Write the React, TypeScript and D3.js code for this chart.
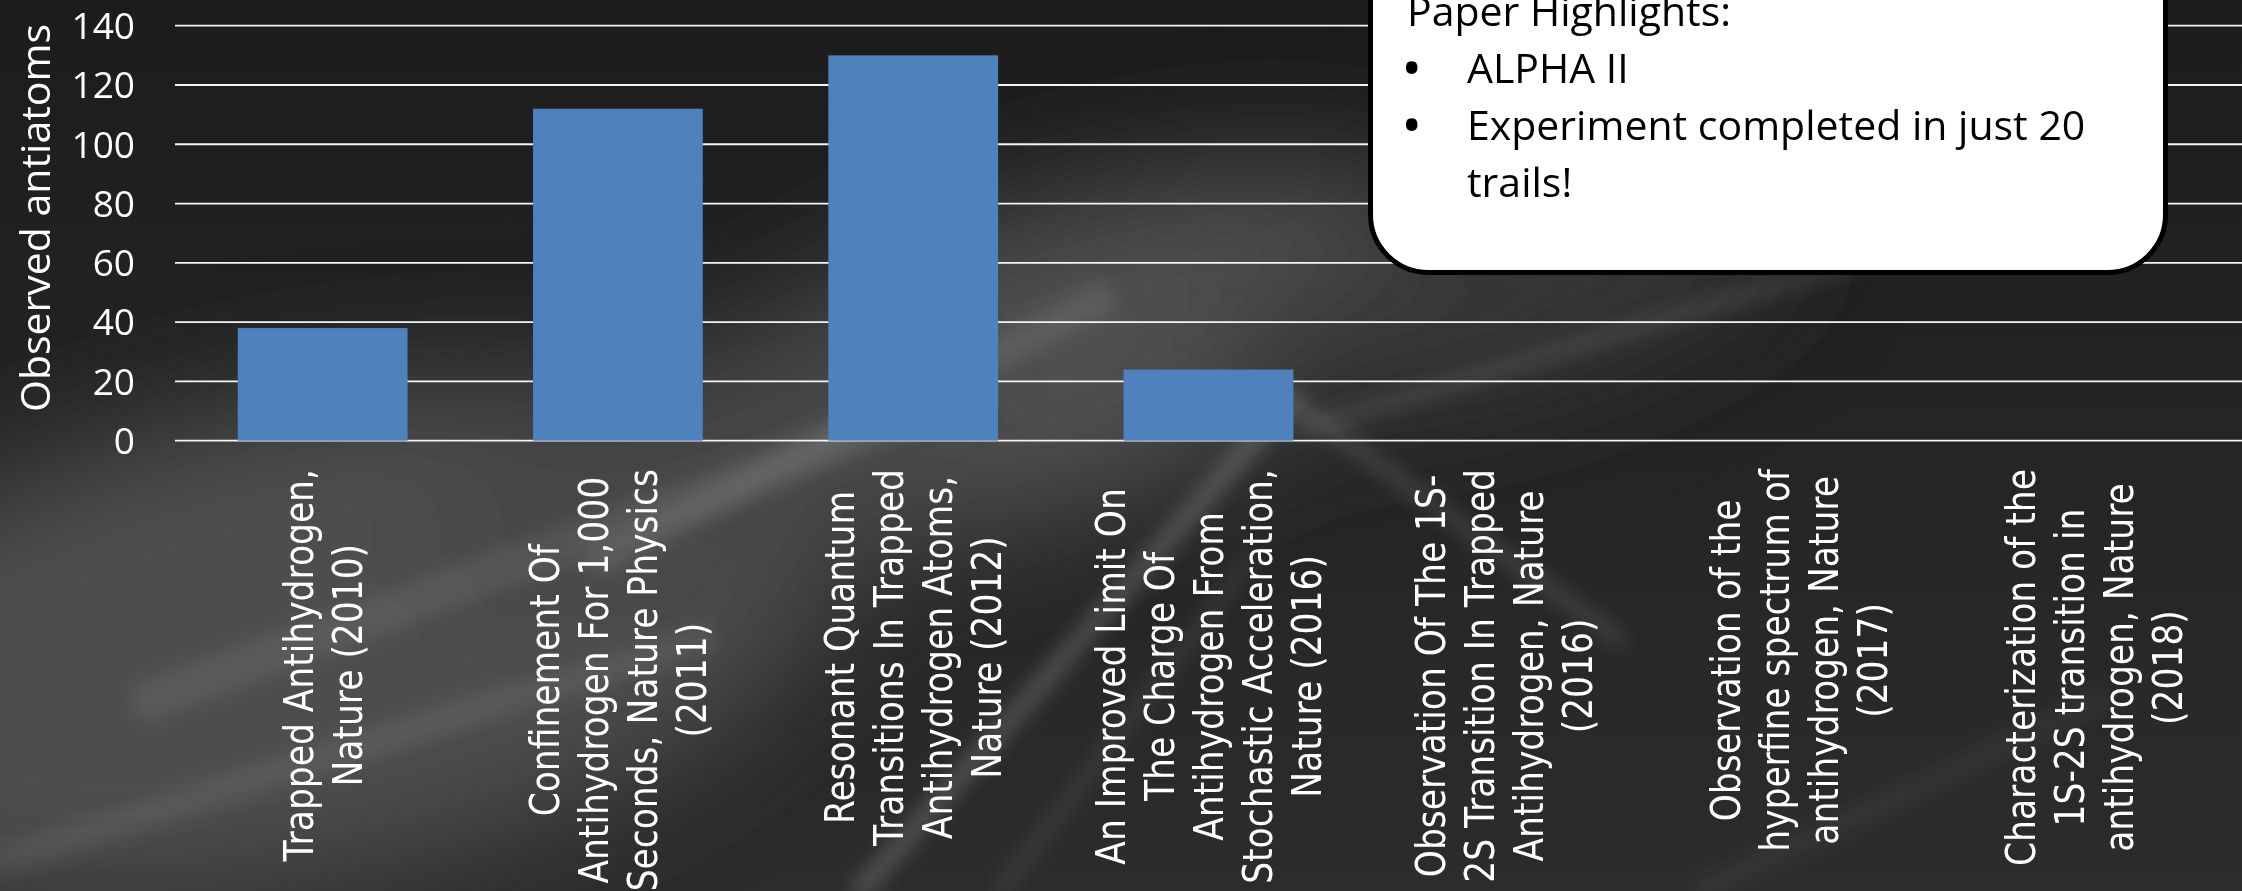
import React, { useEffect, useRef } from 'react';
import * as d3 from 'd3';

const W = 2242;
const H = 891;

const categoryLines: string[][] = [
  ['Trapped Antihydrogen,', 'Nature (2010)'],
  ['Confinement Of', 'Antihydrogen For 1,000', 'Seconds, Nature Physics', '(2011)'],
  ['Resonant Quantum', 'Transitions In Trapped', 'Antihydrogen Atoms,', 'Nature (2012)'],
  ['An Improved Limit On', 'The Charge Of', 'Antihydrogen From', 'Stochastic Acceleration,', 'Nature (2016)'],
  ['Observation Of The 1S-', '2S Transition In Trapped', 'Antihydrogen, Nature', '(2016)'],
  ['Observation of the', 'hyperfine spectrum of', 'antihydrogen, Nature', '(2017)'],
  ['Characterization of the', '1S-2S transition in', 'antihydrogen, Nature', '(2018)'],
];
const observed: number[] = [38, 112, 130, 24, 0, 0, 0];
const yTicks: number[] = [0, 20, 40, 60, 80, 100, 120, 140];
const yTitle = 'Observed antiatoms';
const noteTitle = 'Paper Highlights:';
const noteBullets: string[][] = [['ALPHA II'], ['Experiment completed in just 20', 'trails!']];

const streaks: [number, number, number, number, number, number][] = [
  // x1, y1, x2, y2, width, opacity
  [860, 891, 1290, 400, 16, 0.22],
  [1290, 400, 1620, 640, 12, 0.16],
  [1300, 430, 1860, 260, 14, 0.12],
  [150, 700, 900, 420, 40, 0.08],
  [0, 860, 700, 640, 30, 0.08],
  [600, 560, 1100, 300, 30, 0.10],
  [1000, 891, 1250, 560, 10, 0.12],
  [1700, 891, 2100, 700, 20, 0.06],
];

export default function App() {
  const ref = useRef<SVGSVGElement | null>(null);

  useEffect(() => {
    const svg = d3.select(ref.current);
    svg.selectAll('*').remove();

    const defs = svg.append('defs');
    const blur = defs.append('filter').attr('id', 'blur').attr('x', '-50%').attr('y', '-50%').attr('width', '200%').attr('height', '200%');
    blur.append('feGaussianBlur').attr('stdDeviation', 10);
    const blurBig = defs.append('filter').attr('id', 'blurBig').attr('x', '-50%').attr('y', '-50%').attr('width', '200%').attr('height', '200%');
    blurBig.append('feGaussianBlur').attr('stdDeviation', 60);

    const bgGrad = defs.append('linearGradient').attr('id', 'bgGrad').attr('x1', 0).attr('y1', 0).attr('x2', 0).attr('y2', 1);
    bgGrad.append('stop').attr('offset', '0%').attr('stop-color', '#1c1c1c');
    bgGrad.append('stop').attr('offset', '45%').attr('stop-color', '#242424');
    bgGrad.append('stop').attr('offset', '100%').attr('stop-color', '#2c2c2c');

    // background
    svg.append('rect').attr('width', W).attr('height', H).attr('fill', 'url(#bgGrad)');
    const glow = svg.append('g').attr('filter', 'url(#blurBig)');
    glow.append('ellipse').attr('cx', 300).attr('cy', 640).attr('rx', 560).attr('ry', 240)
      .attr('transform', 'rotate(-12 300 640)').attr('fill', '#4e4e4e');
    glow.append('ellipse').attr('cx', 1050).attr('cy', 360).attr('rx', 420).attr('ry', 150)
      .attr('transform', 'rotate(-18 1050 360)').attr('fill', '#505050');
    glow.append('ellipse').attr('cx', 700).attr('cy', 470).attr('rx', 300).attr('ry', 120)
      .attr('transform', 'rotate(-20 700 470)').attr('fill', '#474747');
    glow.append('ellipse').attr('cx', 1500).attr('cy', 300).attr('rx', 300).attr('ry', 90)
      .attr('transform', 'rotate(-15 1500 300)').attr('fill', '#383838');
    const st = svg.append('g').attr('filter', 'url(#blur)');
    st.selectAll('line').data(streaks).join('line')
      .attr('x1', d => d[0]).attr('y1', d => d[1]).attr('x2', d => d[2]).attr('y2', d => d[3])
      .attr('stroke', '#fff').attr('stroke-width', d => d[4]).attr('stroke-opacity', d => d[5])
      .attr('stroke-linecap', 'round');

    // scales
    const x = d3.scaleBand<number>()
      .domain(d3.range(categoryLines.length))
      .range([175, W])
      .paddingInner(0.425)
      .paddingOuter(0.2125);
    const y = d3.scaleLinear().domain([0, 140]).range([440.7, 25.7]);

    // gridlines
    svg.append('g').selectAll('line').data(yTicks).join('line')
      .attr('x1', 175).attr('x2', W)
      .attr('y1', d => y(d)).attr('y2', d => y(d))
      .attr('stroke', '#f4f4f4').attr('stroke-width', 1.8);

    // tick labels
    svg.append('g').selectAll('text').data(yTicks).join('text')
      .attr('x', 135).attr('y', d => y(d)).attr('dy', '0.36em')
      .attr('text-anchor', 'end')
      .attr('font-family', '"Open Sans", sans-serif').attr('font-size', 37)
      .attr('fill', '#fff')
      .text(d => String(d));

    // y title
    svg.append('text')
      .attr('transform', 'translate(50,218) rotate(-90)')
      .attr('text-anchor', 'middle')
      .attr('font-family', '"Open Sans", sans-serif').attr('font-size', 41)
      .attr('fill', '#fff')
      .text(yTitle);

    // bars
    svg.append('g').selectAll('rect').data(observed).join('rect')
      .attr('x', (_, i) => x(i) as number)
      .attr('width', x.bandwidth())
      .attr('y', d => y(d))
      .attr('height', d => y(0) - y(d))
      .attr('fill', '#4f81bd');

    // category labels
    const lineGap = 49;
    const stretch = 1.18;
    const labelTop = 469;
    categoryLines.forEach((lines, i) => {
      const cx = (x(i) as number) + x.bandwidth() / 2;
      const g = svg.append('g');
      const t = g.append('text')
        .attr('text-anchor', 'middle')
        .attr('font-family', '"DejaVu Sans", sans-serif')
        .attr('font-size', 34.5)
        .attr('fill', '#fff');
      const n = lines.length;
      const spans = t.selectAll('tspan').data(lines).join('tspan')
        .attr('x', 0)
        .attr('y', (_, k) => ((k - (n - 1) / 2) * lineGap + 14.5) / stretch)
        .text(d => d);
      let maxLen = 0;
      spans.each(function () {
        maxLen = Math.max(maxLen, (this as SVGTSpanElement).getComputedTextLength());
      });
      g.attr('transform', `translate(${cx},${labelTop + maxLen / 2}) rotate(-90) scale(1,${stretch})`);
    });

    // callout box
    const box = svg.append('g');
    box.append('rect')
      .attr('x', 1370.5).attr('y', -80).attr('width', 795).attr('height', 352.5)
      .attr('rx', 58).attr('ry', 58)
      .attr('fill', '#fff').attr('stroke', '#000').attr('stroke-width', 5);
    const fontBox = '"Open Sans", sans-serif';
    box.append('text').attr('x', 1407).attr('y', 26)
      .attr('font-family', fontBox).attr('font-size', 41).attr('fill', '#000')
      .text(noteTitle);
    let line = 1;
    noteBullets.forEach(b => {
      box.append('text').attr('x', 1404).attr('y', 26 + line * 57)
        .attr('font-family', fontBox).attr('font-size', 41).attr('font-weight', 700).attr('fill', '#000')
        .text('•');
      b.forEach(s => {
        box.append('text').attr('x', 1467).attr('y', 26 + line * 57)
          .attr('font-family', fontBox).attr('font-size', 41).attr('fill', '#000')
          .text(s);
        line += 1;
      });
    });
  }, []);

  return (
    <svg
      ref={ref}
      width={W}
      height={H}
      style={{ position: 'fixed', left: 0, top: 0, display: 'block' }}
    />
  );
}
